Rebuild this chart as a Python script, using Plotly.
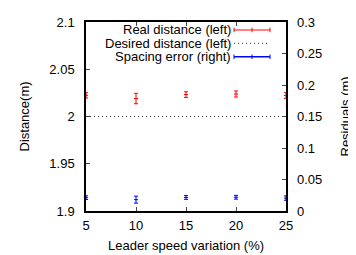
import plotly.graph_objects as go

speed_var = [5, 10, 15, 20, 25]
real_dist = [2.0224, 2.0190, 2.0232, 2.0238, 2.0222]
real_err = [0.0028, 0.0055, 0.0030, 0.0032, 0.0030]
desired_dist = [2.0, 2.0, 2.0, 2.0, 2.0]
spacing_err = [0.0212, 0.0180, 0.0215, 0.0218, 0.0205]
spacing_err_bar = [0.0030, 0.0055, 0.0030, 0.0030, 0.0035]

legend_names = ["Real distance (left)", "Desired distance (left)", "Spacing error (right)"]
legend_colors = ["#ff0000", "#000000", "#0000ff"]

FONT = "Liberation Sans, Arial, sans-serif"
FS = 13

fig = go.Figure()
fig.add_trace(go.Scatter(
    x=speed_var, y=desired_dist, mode="lines",
    line=dict(color="#333333", width=1, dash="1px,3px"), showlegend=False))
fig.add_trace(go.Scatter(
    x=speed_var, y=real_dist, mode="markers",
    marker=dict(color="#ff0000", size=3, symbol="line-ew", line=dict(color="#ff0000", width=1)),
    error_y=dict(type="data", array=real_err, color="#ff0000", thickness=1, width=2),
    showlegend=False, cliponaxis=False))
fig.add_trace(go.Scatter(
    x=speed_var, y=spacing_err, mode="markers", yaxis="y2",
    marker=dict(color="#0000ff", size=3, symbol="line-ew", line=dict(color="#0000ff", width=1)),
    error_y=dict(type="data", array=spacing_err_bar, color="#0000ff", thickness=1, width=2),
    showlegend=False, cliponaxis=False))

# Legend (gnuplot style: right-aligned text, sample to the right)
rows_y = [0.958, 0.887, 0.816]
for name, col, yy, i in zip(legend_names, legend_colors, rows_y, range(3)):
    fig.add_annotation(xref="paper", yref="paper", x=0.728, y=yy, text=name,
                       showarrow=False, xanchor="right", yanchor="middle", borderpad=0,
                       font=dict(family=FONT, size=FS, color="#000000"))
    if i == 1:
        fig.add_shape(type="line", xref="paper", yref="paper", x0=0.74, x1=0.92, y0=yy, y1=yy,
                      line=dict(color="#333333", width=1, dash="1px,3px"))
    else:
        fig.add_shape(type="line", xref="paper", yref="paper", x0=0.74, x1=0.92, y0=yy, y1=yy,
                      line=dict(color=col, width=1.5), opacity=0.65 if i == 0 else 1)
        for xx in (0.74, 0.83, 0.92):
            fig.add_shape(type="line", xref="paper", yref="paper", x0=xx, x1=xx,
                          y0=yy - 0.012, y1=yy + 0.012, line=dict(color=col, width=1))

# Axis titles as annotations (precise placement)
fig.add_annotation(xref="paper", yref="paper", x=0.5, y=0, yshift=-34, text="Leader speed variation (%)",
                   showarrow=False, xanchor="center", yanchor="middle",
                   font=dict(family=FONT, size=FS))
fig.add_annotation(xref="paper", yref="paper", x=0, xshift=-62, y=0.5, text="Distance(m)",
                   textangle=-90, showarrow=False, xanchor="center", yanchor="middle",
                   font=dict(family=FONT, size=FS))
fig.add_annotation(xref="paper", yref="paper", x=1, xshift=59, y=0.5, text="Residuals (m)",
                   textangle=-90, showarrow=False, xanchor="center", yanchor="middle",
                   font=dict(family=FONT, size=FS))

# page body has an 8px default margin -> figure is 8px smaller, offsets shifted
fig.update_layout(
    width=348, height=247,
    margin=dict(l=78, r=70, t=7, b=44),
    paper_bgcolor="white", plot_bgcolor="white",
    font=dict(family=FONT, size=FS, color="#000000"),
    showlegend=False,
    xaxis=dict(range=[5, 25], tickvals=[5, 10, 15, 20, 25], ticks="inside", ticklen=4,
               ticklabelstandoff=2,
               showgrid=False, zeroline=False, showline=True, linecolor="#000000", linewidth=1.5,
               mirror="ticks"),
    yaxis=dict(range=[1.9, 2.1], tickvals=[1.9, 1.95, 2.0, 2.05, 2.1],
               ticktext=["1.9", "1.95", "2", "2.05", "2.1"], ticks="inside", ticklen=4,
               ticklabelstandoff=7,
               showgrid=False, zeroline=False, showline=True, linecolor="#000000", linewidth=1.5,
               mirror=True),
    yaxis2=dict(range=[0, 0.3], tickvals=[0, 0.05, 0.1, 0.15, 0.2, 0.25, 0.3],
                ticktext=["0", "0.05", "0.1", "0.15", "0.2", "0.25", "0.3"],
                overlaying="y", side="right", ticks="inside", ticklen=4,
                ticklabelstandoff=10,
                showgrid=False, zeroline=False, showline=False),
)

fig.write_html("out.html")
